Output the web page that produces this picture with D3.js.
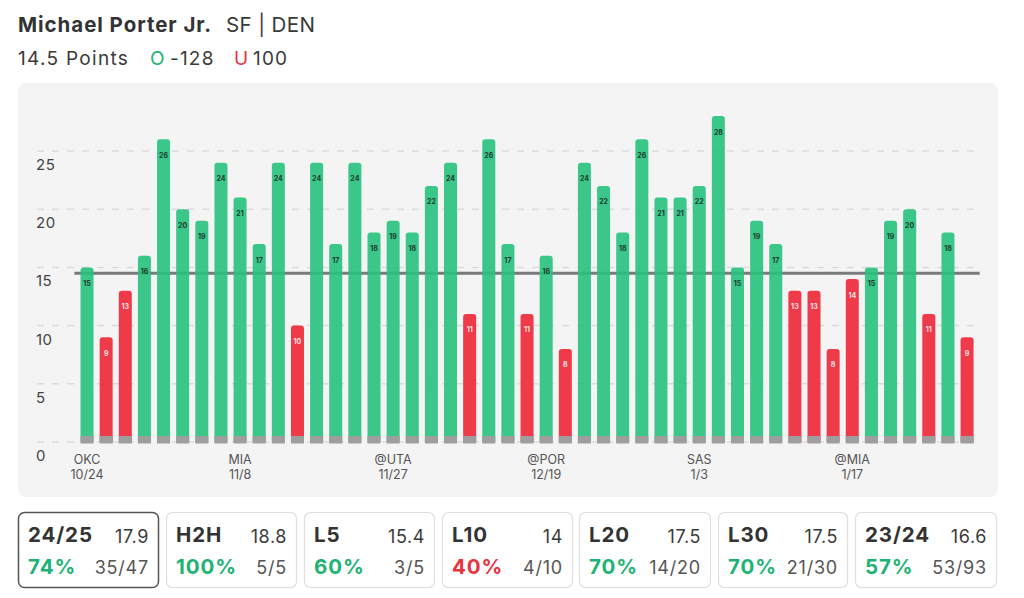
<!DOCTYPE html>
<html>
<head>
<meta charset="utf-8">
<script src="https://cdn.jsdelivr.net/npm/d3@7"></script>
<style>
  html, body { margin: 0; padding: 0; background: #ffffff; }
  svg { display: block; font-family: Inter, "Open Sans", sans-serif; }
</style>
</head>
<body>
<svg id="chart" width="1024" height="598"></svg>
<script>
// ---- data ----
const games = ["OKC 10/24","g2","g3","g4","g5","g6","g7","g8","MIA 11/8","g10","g11","g12","g13","g14","g15","g16",
  "@UTA 11/27","g18","g19","g20","g21","g22","g23","g24","@POR 12/19","g26","g27","g28","g29","g30","g31","g32",
  "SAS 1/3","g34","g35","g36","g37","g38","g39","g40","@MIA 1/17","g42","g43","g44","g45","g46","g47"];
const points = [15,9,13,16,26,20,19,24,21,17,24,10,24,17,24,18,19,18,22,24,11,26,17,11,16,8,24,22,18,26,21,21,22,28,15,19,17,13,13,8,14,15,19,20,11,18,9];
const axisLabelTeams = {0:"OKC",8:"MIA",16:"@UTA",24:"@POR",32:"SAS",40:"@MIA"};
const axisLabelDates = {0:"10/24",8:"11/8",16:"11/27",24:"12/19",32:"1/3",40:"1/17"};
const yTicks = [0,5,10,15,20,25];
const line = 14.5;

const statNames = ["24/25","H2H","L5","L10","L20","L30","23/24"];
const statAvg = ["17.9","18.8","15.4","14","17.5","17.5","16.6"];
const statPct = [74,100,60,40,70,70,57];
const statRecord = ["35/47","5/5","3/5","4/10","14/20","21/30","53/93"];

const GREEN = "#27c17e", RED = "#ee2636", GREEN_TXT = "#1db374", RED_TXT = "#e8333f";

const svg = d3.select("#chart");

// ---- header ----
svg.append("text").attr("x", 18).attr("y", 32).attr("font-size", 20.5).attr("font-weight", 700)
  .attr("letter-spacing", 0.95).attr("fill", "#333").text("Michael Porter Jr.");
svg.append("text").attr("x", 226).attr("y", 32).attr("font-size", 20.5).attr("letter-spacing", 0.4)
  .attr("fill", "#3a3a3a").text("SF | DEN");

const h2 = [
  {t: "14.5 Points", x: 18, c: "#3a3a3a", ls: 1.3},
  {t: "O", x: 150, c: GREEN_TXT, ls: 0},
  {t: "-128", x: 170, c: "#3a3a3a", ls: 1.2},
  {t: "U", x: 234, c: RED_TXT, ls: 0},
  {t: "100", x: 253, c: "#3a3a3a", ls: 1.2}
];
svg.append("g").selectAll("text").data(h2).join("text")
  .attr("x", d => d.x).attr("y", 65).attr("font-size", 19)
  .attr("letter-spacing", d => d.ls).attr("fill", d => d.c).text(d => d.t);

// ---- panel ----
svg.append("rect").attr("x", 18).attr("y", 83).attr("width", 980).attr("height", 414)
  .attr("rx", 8).attr("fill", "#f4f4f4");

const x = d3.scaleBand().domain(d3.range(points.length)).range([74.4, 979.7]).padding(0.32);
const y = d3.scaleLinear().domain([0, 25]).range([442, 151]);

// grid
const g = svg.append("g");
g.selectAll("line.grid").data(yTicks).join("line")
  .attr("x1", 37).attr("x2", 980)
  .attr("y1", d => y(d)).attr("y2", d => y(d))
  .attr("stroke", "#dcdcdc").attr("stroke-width", 1.5).attr("stroke-dasharray", "7,8");
g.selectAll("text.ytick").data(yTicks).join("text")
  .attr("x", 36).attr("y", d => y(d) + 19)
  .attr("font-size", 15).attr("letter-spacing", 0.5).attr("fill", "#444").text(d => d);

// threshold line
svg.append("line").attr("x1", x.range()[0]).attr("x2", x.range()[1])
  .attr("y1", y(line)).attr("y2", y(line))
  .attr("stroke", "#7a7a7a").attr("stroke-width", 3);

// bars
const bw = x.bandwidth(), r = 3;
const barPath = (i, v) => {
  const x0 = x(i), x1 = x0 + bw, yt = y(v), yb = y(0);
  return `M${x0},${yb} L${x0},${yt + r} Q${x0},${yt} ${x0 + r},${yt} L${x1 - r},${yt} Q${x1},${yt} ${x1},${yt + r} L${x1},${yb} Z`;
};
svg.append("g").selectAll("path").data(points).join("path")
  .attr("d", (d, i) => barPath(i, d))
  .attr("fill", d => d > line ? GREEN : RED)
  .attr("opacity", 0.9);
// gray base
svg.append("g").selectAll("rect").data(points).join("rect")
  .attr("x", (d, i) => x(i)).attr("width", bw)
  .attr("y", y(0) - 6).attr("height", 7.5)
  .attr("fill", "#9e9e9e");
// value labels
svg.append("g").selectAll("text").data(points).join("text")
  .attr("x", (d, i) => x(i) + bw / 2).attr("y", d => y(d) + 18.5)
  .attr("text-anchor", "middle").attr("font-size", 7).attr("font-weight", 700)
  .attr("fill", d => d > line ? "#1e3b2c" : "#ffe3e5")
  .text(d => d);

// x labels
const xl = svg.append("g");
Object.keys(axisLabelTeams).forEach(k => {
  const i = +k, cx = x(i) + bw / 2;
  xl.append("text").attr("x", cx).attr("y", 464).attr("text-anchor", "middle")
    .attr("font-size", 12.5).attr("fill", "#555").text(axisLabelTeams[k]);
  xl.append("text").attr("x", cx).attr("y", 479).attr("text-anchor", "middle")
    .attr("font-size", 12.5).attr("fill", "#555").text(axisLabelDates[k]);
});

// ---- stat boxes ----
const boxX = [18, 166, 304, 442, 579, 718, 855];
const boxW = [141, 131, 131, 131, 132, 130, 142];
const sb = svg.append("g");
statNames.forEach((name, i) => {
  const bx = boxX[i], w = boxW[i];
  sb.append("rect").attr("x", bx + 0.5).attr("y", 512.5).attr("width", w - 1).attr("height", 75)
    .attr("rx", 6).attr("fill", "#fff")
    .attr("stroke", i === 0 ? "#555" : "#dedede").attr("stroke-width", i === 0 ? 1.5 : 1.2);
  sb.append("text").attr("x", bx + 10).attr("y", 542).attr("font-size", 20.5).attr("font-weight", 700)
    .attr("letter-spacing", 0.9).attr("fill", "#333").text(name);
  sb.append("text").attr("x", bx + w - 10).attr("y", 543).attr("text-anchor", "end")
    .attr("font-size", 18).attr("letter-spacing", 0.6).attr("fill", "#3a3a3a").text(statAvg[i]);
  sb.append("text").attr("x", bx + 10).attr("y", 574).attr("font-size", 20.5).attr("font-weight", 700)
    .attr("letter-spacing", 0.9).attr("fill", statPct[i] >= 50 ? GREEN_TXT : RED_TXT).text(statPct[i] + "%");
  sb.append("text").attr("x", bx + w - 10).attr("y", 574).attr("text-anchor", "end")
    .attr("font-size", 18).attr("letter-spacing", 0.8).attr("fill", "#555").text(statRecord[i]);
});
</script>
</body>
</html>
